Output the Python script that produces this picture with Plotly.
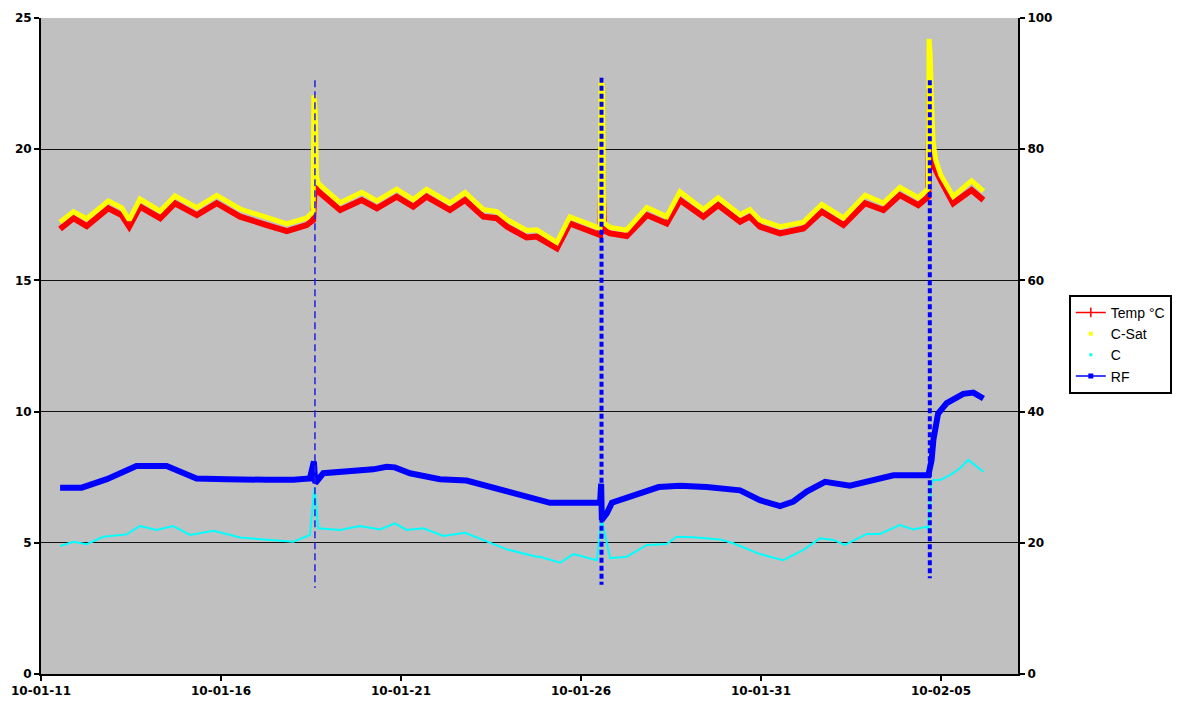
import pandas as pd
import plotly.graph_objects as go

START = "2010-01-11 00:00"

# Temp °C (left axis) : elapsed days since START, values
temp_days = [0.53, 0.90, 1.27, 1.87, 2.24, 2.45, 2.75, 3.31, 3.72, 4.33, 4.88, 5.53, 6.27, 6.83,
             7.38, 7.56, 7.61, 7.66, 8.31, 8.91, 9.33, 9.88, 10.34, 10.71, 11.36, 11.78, 12.29,
             12.66, 12.94, 13.49, 13.77, 14.33, 14.69, 15.16, 15.53, 15.58, 15.64, 15.81, 16.27,
             16.83, 17.38, 17.75, 18.40, 18.81, 19.42, 19.69, 19.97, 20.53, 21.18, 21.69, 22.29,
             22.89, 23.40, 23.86, 24.37, 24.65, 24.68, 24.74, 24.82, 25.00, 25.34, 25.85, 26.18]
temp_vals = [16.96, 17.37, 17.07, 17.75, 17.49, 17.05, 17.81, 17.37, 17.94, 17.49, 17.94, 17.43,
             17.11, 16.88, 17.11, 17.30, 18.80, 18.44, 17.68, 18.06, 17.75, 18.19, 17.81, 18.19,
             17.68, 18.06, 17.43, 17.37, 17.05, 16.64, 16.67, 16.22, 17.17, 16.92, 16.73, 19.60,
             16.90, 16.79, 16.69, 17.49, 17.17, 18.06, 17.43, 17.87, 17.24, 17.43, 17.05, 16.79,
             16.98, 17.62, 17.11, 17.94, 17.68, 18.25, 17.87, 18.19, 22.30, 19.80, 19.30, 18.80,
             17.94, 18.44, 18.06]

# C-Sat (left axis)
csat_days = [0.53, 0.90, 1.27, 1.87, 2.24, 2.45, 2.75, 3.31, 3.72, 4.33, 4.88, 5.53, 6.27, 6.83,
             7.38, 7.56, 7.58, 7.62, 7.65, 7.70, 8.31, 8.91, 9.33, 9.88, 10.34, 10.71, 11.36,
             11.78, 12.29, 12.66, 12.94, 13.49, 13.77, 14.33, 14.69, 15.16, 15.53, 15.56, 15.60,
             15.63, 15.81, 16.27, 16.83, 17.38, 17.75, 18.40, 18.81, 19.42, 19.69, 19.97, 20.53,
             21.18, 21.69, 22.29, 22.89, 23.40, 23.86, 24.37, 24.65, 24.67, 24.70, 24.74, 24.78,
             24.85, 25.00, 25.34, 25.85, 26.18]
csat_vals = [17.22, 17.62, 17.35, 18.03, 17.77, 17.30, 18.10, 17.64, 18.22, 17.77, 18.24, 17.72,
             17.40, 17.15, 17.38, 17.62, 22.06, 21.40, 19.00, 18.70, 17.96, 18.36, 18.03, 18.48,
             18.08, 18.47, 17.95, 18.35, 17.70, 17.62, 17.32, 16.90, 16.93, 16.45, 17.42, 17.18,
             16.98, 22.70, 22.30, 17.20, 17.02, 16.92, 17.78, 17.43, 18.38, 17.70, 18.15, 17.50,
             17.70, 17.30, 17.05, 17.22, 17.90, 17.38, 18.25, 17.95, 18.55, 18.15, 18.50, 24.20,
             23.60, 21.80, 20.30, 19.60, 19.00, 18.20, 18.80, 18.40]

# C (left axis)
c_days = [0.53, 0.90, 1.27, 1.73, 2.38, 2.75, 3.21, 3.67, 4.14, 4.79, 5.53, 6.45, 7.01, 7.47,
          7.60, 7.70, 8.31, 8.86, 9.42, 9.83, 10.16, 10.62, 11.18, 11.78, 12.38, 12.94, 13.77,
          13.86, 14.42, 14.79, 15.44, 15.57, 15.81, 16.27, 16.83, 17.38, 17.66, 18.12, 18.86,
          19.23, 19.97, 20.62, 21.18, 21.64, 22.01, 22.33, 22.94, 23.31, 23.86, 24.23, 24.60,
          24.65, 24.72, 24.79, 24.97, 25.25, 25.53, 25.76, 26.18]
c_vals = [4.88, 5.04, 4.95, 5.23, 5.32, 5.64, 5.49, 5.64, 5.30, 5.46, 5.20, 5.11, 5.04, 5.30,
          7.10, 5.55, 5.49, 5.64, 5.51, 5.74, 5.49, 5.55, 5.26, 5.38, 5.04, 4.75, 4.47,
          4.47, 4.24, 4.57, 4.34, 5.90, 4.41, 4.47, 4.92, 4.95, 5.23, 5.21, 5.13,
          4.98, 4.57, 4.34, 4.73, 5.17, 5.11, 4.92, 5.34, 5.34, 5.68, 5.51, 5.61,
          5.50, 7.20, 7.39, 7.39, 7.58, 7.84, 8.16, 7.71]

# RF (right axis)
rf_days = [0.53, 1.13, 1.83, 2.29, 2.65, 3.49, 4.05, 4.32, 5.16, 5.71, 6.27, 7.01, 7.47, 7.58,
           7.62, 7.84, 8.31, 9.23, 9.60, 9.83, 10.25, 11.08, 11.82, 12.47, 13.12, 13.77, 14.14,
           15.53, 15.56, 15.58, 15.72, 15.86, 16.33, 17.16, 17.75, 18.49, 19.42, 19.97, 20.53,
           20.90, 21.27, 21.78, 22.47, 23.12, 23.68, 24.65, 24.74, 24.79, 24.92, 25.16, 25.62,
           25.90, 26.18]
rf_vals = [28.4, 28.4, 29.7, 30.8, 31.7, 31.7, 30.3, 29.8, 29.7, 29.6, 29.6, 29.6, 29.8, 32.4,
           29.1, 30.6, 30.8, 31.2, 31.6, 31.5, 30.6, 29.7, 29.5, 28.6, 27.5, 26.8, 26.1,
           26.1, 29.0, 23.5, 24.5, 26.1, 27.0, 28.5, 28.7, 28.5, 28.0, 26.5, 25.6,
           26.3, 27.8, 29.3, 28.7, 29.6, 30.3, 30.3, 32.6, 35.7, 39.7, 41.3, 42.7,
           42.9, 42.0]

# RF spikes (right axis): time, top, bottom
rf_spike_days = [7.61, 15.57, 24.69]
rf_spike_top = [90.5, 90.9, 90.5]
rf_spike_bottom = [13.1, 13.6, 14.6]

X_END_DAYS = 27.14

t0 = pd.Timestamp(START)


def to_time(days):
    return [t0 + pd.Timedelta(days=d) for d in days]


fig = go.Figure()

fig.add_trace(go.Scatter(x=to_time(temp_days), y=temp_vals, mode="lines",
                         line=dict(color="#ff0000", width=6), showlegend=False, yaxis="y"))
fig.add_trace(go.Scatter(x=to_time(csat_days), y=csat_vals, mode="lines",
                         line=dict(color="#ffff00", width=5), showlegend=False, yaxis="y"))
fig.add_trace(go.Scatter(x=to_time(c_days), y=c_vals, mode="lines",
                         line=dict(color="#00ffff", width=2), showlegend=False, yaxis="y"))
fig.add_trace(go.Scatter(x=to_time(rf_days), y=rf_vals, mode="lines",
                         line=dict(color="#0000ff", width=6), showlegend=False, yaxis="y2"))

# spikes: first thin dashed, others heavier dotted
for i, (d, top, bot) in enumerate(zip(rf_spike_days, rf_spike_top, rf_spike_bottom)):
    t = to_time([d])[0]
    if i == 0:
        ln = dict(color="#2020e8", width=1.5, dash="7px,4px")
    else:
        ln = dict(color="#0000ff", width=4, dash="5px,3px")
    fig.add_trace(go.Scatter(x=[t, t], y=[top, bot], mode="lines", line=ln,
                             showlegend=False, yaxis="y2"))

# legend entries
fig.add_trace(go.Scatter(x=[None], y=[None], mode="lines+markers", name="Temp °C",
                         line=dict(color="#ff0000", width=1.5),
                         marker=dict(symbol="line-ns", size=7, line=dict(color="#ff0000", width=1.5))))
fig.add_trace(go.Scatter(x=[None], y=[None], mode="markers", name="C-Sat",
                         marker=dict(symbol="square", size=4, color="#ffff00")))
fig.add_trace(go.Scatter(x=[None], y=[None], mode="markers", name="C",
                         marker=dict(symbol="square", size=3, color="#00ffff")))
fig.add_trace(go.Scatter(x=[None], y=[None], mode="lines+markers", name="RF",
                         line=dict(color="#0000ff", width=1.5),
                         marker=dict(symbol="square", size=5, color="#0000ff")))

tickfont = dict(family="DejaVu Sans", size=12, color="black", weight="bold")

fig.update_layout(
    width=1181, height=708,
    margin=dict(l=33, r=171, t=10, b=42),
    paper_bgcolor="white",
    plot_bgcolor="#c0c0c0",
    xaxis=dict(
        type="date", automargin=False,
        range=[t0, t0 + pd.Timedelta(days=X_END_DAYS)],
        tick0=t0, dtick=5 * 86400000, tickformat="%y-%m-%d",
        showgrid=False, zeroline=False,
        showline=True, linecolor="black", linewidth=2,
        ticks="outside", ticklen=5, tickcolor="black", tickwidth=2,
        tickfont=tickfont,
    ),
    yaxis=dict(
        range=[0, 25], dtick=5, showgrid=True, gridcolor="#101010", gridwidth=1,
        automargin=False,
        zeroline=False, showline=True, linecolor="black", linewidth=2,
        ticks="outside", ticklen=5, tickcolor="black", tickwidth=2,
        tickfont=tickfont,
    ),
    yaxis2=dict(
        range=[0, 100], dtick=20, overlaying="y", side="right", showgrid=False,
        automargin=False,
        zeroline=False, showline=True, linecolor="black", linewidth=2,
        ticks="outside", ticklen=5, tickcolor="black", tickwidth=2,
        tickfont=tickfont,
    ),
    legend=dict(
        x=1.052, y=0.578, xanchor="left", yanchor="top",
        bgcolor="white", bordercolor="black", borderwidth=2,
        font=dict(family="Liberation Sans", size=14, color="black"),
        itemwidth=30, tracegroupgap=0,
    ),
    showlegend=True,
)

fig.write_html("out.html")
